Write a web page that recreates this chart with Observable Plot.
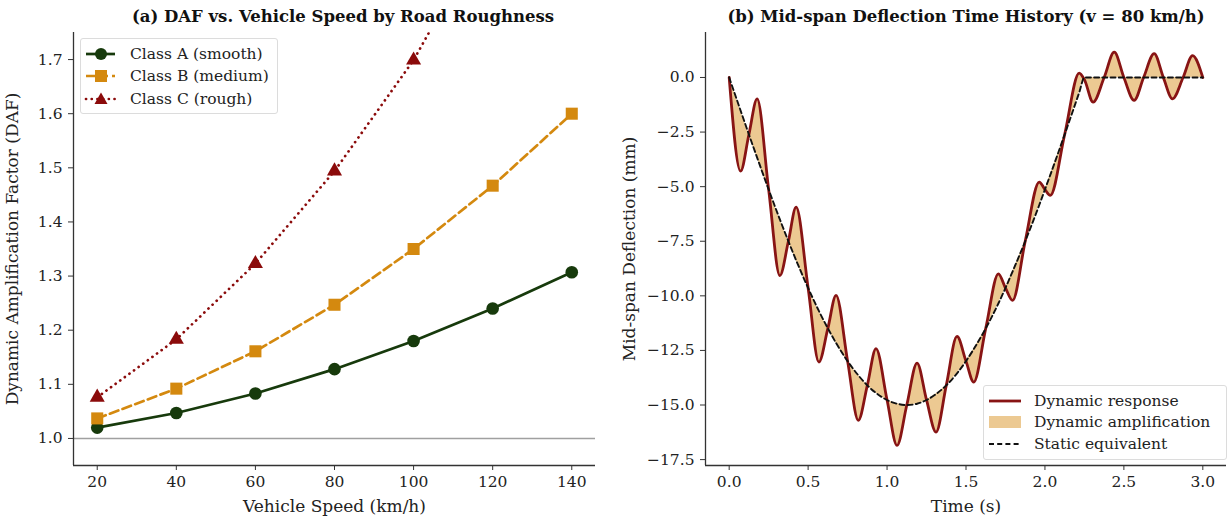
<!DOCTYPE html>
<html><head><meta charset="utf-8">
<script src="https://cdn.jsdelivr.net/npm/d3@7"></script>
<script src="https://cdn.jsdelivr.net/npm/@observablehq/plot@0.6"></script>
<style>
body{margin:0;background:#fff;}
#wrap{position:relative;width:1228px;height:520px;overflow:hidden;font-family:"DejaVu Serif",serif;color:#222;background:#fff;}
.panel{position:absolute;top:0;}
.title{position:absolute;top:7px;font-weight:bold;font-size:16.5px;white-space:nowrap;transform:translateX(-50%);color:#111;}
.legend{position:absolute;background:rgba(255,255,255,0.85);border:1px solid #dcdcdc;border-radius:3px;font-size:15.5px;}
.legend .row{position:absolute;left:0;height:20px;white-space:nowrap;}
.legend .row svg{position:absolute;left:0;top:0;}
.legend .row span{position:absolute;top:0px;line-height:20px;}
</style></head>
<body>
<div id="wrap"></div>
<script>
// ---------- Panel (a) data ----------
const speeds = [20, 40, 60, 80, 100, 120, 140];
const classA = [1.020, 1.047, 1.083, 1.128, 1.180, 1.240, 1.307];
const classB = [1.037, 1.092, 1.161, 1.247, 1.350, 1.467, 1.600];
const classC = [1.076, 1.183, 1.323, 1.494, 1.699, 1.960, 2.250];
const classNames = ["Class A (smooth)", "Class B (medium)", "Class C (rough)"];
const dafTicks = [1.0, 1.1, 1.2, 1.3, 1.4, 1.5, 1.6, 1.7];
const speedTicks = [20, 40, 60, 80, 100, 120, 140];

// ---------- Panel (b) data ----------
const time = [0, 0.072, 0.125, 0.177, 0.25, 0.321, 0.375, 0.424, 0.5, 0.568, 0.625, 0.677, 0.75, 0.818, 0.875, 0.93, 1.0, 1.063, 1.125, 1.19, 1.25, 1.31, 1.375, 1.443, 1.5, 1.549, 1.625, 1.705, 1.75, 1.795, 1.875, 1.964, 2.0, 2.034, 2.125, 2.217, 2.25, 2.305, 2.375, 2.439, 2.5, 2.565, 2.625, 2.692, 2.75, 2.808, 2.875, 2.935, 3.0];
const dynamicResp = [0, -4.29, -2.61, -0.98, -5.13, -9.07, -7.50, -5.94, -9.64, -13.03, -11.49, -9.98, -12.99, -15.70, -14.10, -12.42, -14.77, -16.85, -15.00, -13.08, -14.77, -16.24, -14.10, -11.86, -12.99, -13.95, -11.49, -8.99, -9.64, -10.21, -7.50, -4.79, -5.13, -5.40, -2.61, 0.20, -0.10, -1.13, 0, 1.16, 0, -1.05, 0, 1.09, 0, -0.98, 0, 1.00, 0];
const staticEq = [0, -1.51, -2.61, -3.67, -5.13, -6.50, -7.50, -8.37, -9.64, -10.69, -11.49, -12.16, -12.99, -13.64, -14.10, -14.45, -14.77, -14.94, -15.00, -14.94, -14.77, -14.50, -14.10, -13.55, -12.99, -12.44, -11.49, -10.35, -9.64, -8.89, -7.50, -5.84, -5.13, -4.46, -2.61, -0.69, 0, 0, 0, 0, 0, 0, 0, 0, 0, 0, 0, 0, 0];
const respNames = ["Dynamic response", "Dynamic amplification", "Static equivalent"];
const timeTicks = [0, 0.5, 1.0, 1.5, 2.0, 2.5, 3.0];
const deflTicks = [0, -2.5, -5, -7.5, -10, -12.5, -15, -17.5];

const colA = "#173a0c", colB = "#d4890f", colC = "#8b0b0b";
const colDyn = "#881414", colFill = "#ecc992";

const wrap = document.getElementById("wrap");
const baseStyle = {fontFamily: "DejaVu Serif", fontSize: "15.5px", color: "#222", background: "transparent", overflow: "visible"};

const mk = (ys) => speeds.map((s, i) => ({speed: s, daf: ys[i]}));
const dA = mk(classA), dB = mk(classB), dC = mk(classC);

const left = Plot.plot({
  width: 614, height: 520,
  marginLeft: 73, marginRight: 19, marginTop: 32, marginBottom: 55,
  style: baseStyle,
  x: {domain: [14, 146]},
  y: {domain: [0.95, 1.75]},
  marks: [
    Plot.ruleY([1.0], {stroke: "#a0a0a0", strokeWidth: 1.6}),
    Plot.line(dA, {x: "speed", y: "daf", stroke: colA, strokeWidth: 2.7, clip: true}),
    Plot.line(dB, {x: "speed", y: "daf", stroke: colB, strokeWidth: 2.7, strokeDasharray: "9,4.5", clip: true}),
    Plot.line(dC, {x: "speed", y: "daf", stroke: colC, strokeWidth: 2.7, strokeDasharray: "0.1,5.6", strokeLinecap: "round", clip: true}),
    Plot.dot(dA, {x: "speed", y: "daf", fill: colA, r: 6.3, symbol: "circle", clip: true}),
    Plot.dot(dB, {x: "speed", y: "daf", fill: colB, r: 6.8, symbol: "square", clip: true}),
    Plot.dot(dC, {x: "speed", y: "daf", fill: colC, r: 5.6, symbol: "triangle", clip: true}),
    Plot.axisX({ticks: speedTicks, tickSize: 5, tickPadding: 5, label: null, stroke: "#333"}),
    Plot.axisY({ticks: dafTicks, tickFormat: d => d.toFixed(1), tickSize: 5, tickPadding: 6, label: null, stroke: "#333"}),
    Plot.ruleX([14], {stroke: "#333", strokeWidth: 1.3}),
    Plot.ruleY([0.95], {stroke: "#333", strokeWidth: 1.3}),
    Plot.text(["Vehicle Speed (km/h)"], {frameAnchor: "bottom", dy: 41, textAnchor: "middle", lineAnchor: "middle", fontSize: 17, fill: "#222"}),
    Plot.text(["Dynamic Amplification Factor (DAF)"], {frameAnchor: "left", dx: -61, rotate: -90, textAnchor: "middle", lineAnchor: "middle", fontSize: 17, fill: "#222"})
  ]
});
left.classList.add("panel");
left.style.left = "0px";
wrap.appendChild(left);

const sig = time.map((t, i) => ({t, d: dynamicResp[i], s: staticEq[i]}));
const fmtDefl = d => (d < 0 ? "\u2212" : "") + Math.abs(d).toFixed(1);

const right = Plot.plot({
  width: 614, height: 520,
  marginLeft: 91, marginRight: 2, marginTop: 32, marginBottom: 55,
  style: baseStyle,
  x: {domain: [-0.15, 3.15]},
  y: {domain: [-17.77, 2.06]},
  marks: [
    Plot.areaY(sig, {x: "t", y1: "s", y2: "d", fill: colFill, curve: "monotone-x"}),
    Plot.line(sig, {x: "t", y: "d", stroke: colDyn, strokeWidth: 2.8, curve: "monotone-x"}),
    Plot.line(sig, {x: "t", y: "s", stroke: "#111", strokeWidth: 1.9, strokeDasharray: "5,3.2", curve: "monotone-x"}),
    Plot.axisX({ticks: timeTicks, tickFormat: d => d.toFixed(1), tickSize: 5, tickPadding: 5, label: null, stroke: "#333"}),
    Plot.axisY({ticks: deflTicks, tickFormat: fmtDefl, tickSize: 5, tickPadding: 6, label: null, stroke: "#333"}),
    Plot.ruleX([-0.15], {stroke: "#333", strokeWidth: 1.3}),
    Plot.ruleY([-17.77], {stroke: "#333", strokeWidth: 1.3}),
    Plot.text(["Time (s)"], {frameAnchor: "bottom", dy: 41, textAnchor: "middle", lineAnchor: "middle", fontSize: 17, fill: "#222"}),
    Plot.text(["Mid-span Deflection (mm)"], {frameAnchor: "left", dx: -76, rotate: -90, textAnchor: "middle", lineAnchor: "middle", fontSize: 17, fill: "#222"})
  ]
});
right.classList.add("panel");
right.style.left = "614px";
wrap.appendChild(right);

// ---------- Titles ----------
function addTitle(text, cx) {
  const d = document.createElement("div");
  d.className = "title"; d.textContent = text; d.style.left = cx + "px";
  wrap.appendChild(d);
}
addTitle("(a) DAF vs. Vehicle Speed by Road Roughness", 343);
addTitle("(b) Mid-span Deflection Time History (v = 80 km/h)", 966);

// ---------- Legends ----------
function legend(x, y, w, h, items) {
  const box = document.createElement("div");
  box.className = "legend";
  Object.assign(box.style, {left: x + "px", top: y + "px", width: w + "px", height: h + "px"});
  items.forEach(it => {
    const row = document.createElement("div");
    row.className = "row";
    row.style.top = (it.cy - 10) + "px";
    row.style.width = w + "px";
    row.innerHTML = `<svg width="48" height="20">${it.swatch}</svg><span style="left:${it.tx}px">${it.label}</span>`;
    box.appendChild(row);
  });
  wrap.appendChild(box);
}
legend(80, 38, 196, 74, [
  {cy: 15, tx: 49, label: classNames[0], swatch: `<line x1="5" y1="10" x2="34" y2="10" stroke="${colA}" stroke-width="2.7"/><circle cx="20" cy="10" r="6" fill="${colA}"/>`},
  {cy: 37, tx: 49, label: classNames[1], swatch: `<line x1="5" y1="10" x2="34" y2="10" stroke="${colB}" stroke-width="2.7" stroke-dasharray="9,4"/><rect x="14" y="4" width="12" height="12" fill="${colB}"/>`},
  {cy: 60, tx: 49, label: classNames[2], swatch: `<line x1="5" y1="10" x2="34" y2="10" stroke="${colC}" stroke-width="2.7" stroke-dasharray="0.1,5.6" stroke-linecap="round"/><path d="M20,3.5 L26.5,15 L13.5,15 Z" fill="${colC}"/>`}
]);
legend(983, 385, 242, 73, [
  {cy: 15, tx: 50, label: respNames[0], swatch: `<line x1="5" y1="10" x2="37" y2="10" stroke="${colDyn}" stroke-width="2.8"/>`},
  {cy: 36, tx: 50, label: respNames[1], swatch: `<rect x="5" y="4" width="32" height="12" fill="${colFill}"/>`},
  {cy: 58, tx: 50, label: respNames[2], swatch: `<line x1="5" y1="10" x2="37" y2="10" stroke="#111" stroke-width="1.9" stroke-dasharray="5,3.2"/>`}
]);
</script>
</body></html>
